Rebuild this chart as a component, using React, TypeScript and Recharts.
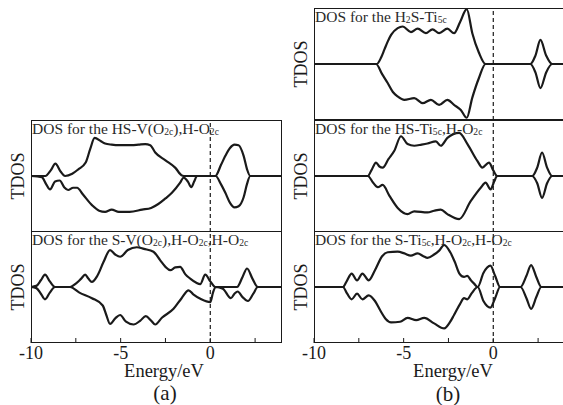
import React from "react";
import { LineChart, Line, XAxis, YAxis, ReferenceLine } from "recharts";

type Pt = [number, number];

// energy axis (eV), minor ticks every 2.5, labels every 5
const energyDomain: [number, number] = [-10, 4];
const energyTicks = [-10, -7.5, -5, -2.5, 0, 2.5];

// (a) HS-V(O2c),H-O2c : spin up / spin down
const hsVUp: Pt[] = [
  [-10, 0], [-9.2, 0], [-8.9, 0.1], [-8.64, 0.22], [-8.35, 0.08], [-8.1, 0], [-7.7, 0.04],
  [-7.36, 0.12], [-6.95, 0.24], [-6.7, 0.48], [-6.45, 0.68], [-6.1, 0.62], [-5.87, 0.58],
  [-5.5, 0.56], [-5.1, 0.55], [-4.7, 0.55], [-4.38, 0.55], [-4.0, 0.56], [-3.63, 0.57],
  [-3.35, 0.55], [-3.07, 0.42], [-2.5, 0.28], [-1.96, 0.15], [-1.58, 0.01], [-1.4, 0],
  [0.28, 0], [0.6, 0.2], [0.84, 0.36], [1.1, 0.5], [1.35, 0.56], [1.58, 0.55], [1.86, 0.36],
  [2.05, 0.12], [2.23, 0], [4, 0],
];
const hsVDown: Pt[] = [
  [-10, 0], [-9.4, -0.02], [-9.15, -0.15], [-8.94, -0.24], [-8.66, -0.1], [-8.4, -0.08],
  [-8.15, -0.2], [-7.93, -0.25], [-7.65, -0.21], [-7.43, -0.21], [-7.1, -0.33], [-6.6, -0.52],
  [-6.2, -0.62], [-5.87, -0.64], [-5.5, -0.6], [-5.1, -0.64], [-4.5, -0.64], [-3.8, -0.6],
  [-3.3, -0.57], [-2.9, -0.5], [-2.5, -0.4], [-2.14, -0.3], [-1.68, -0.12], [-1.49, -0.03],
  [-1.25, -0.1], [-1.06, -0.2], [-0.9, -0.1], [-0.74, 0], [0.3, 0], [0.6, -0.15],
  [0.84, -0.3], [1.1, -0.48], [1.35, -0.56], [1.58, -0.54], [1.86, -0.38], [2.05, -0.14],
  [2.23, 0], [4, 0],
];

// (a) S-V(O2c),H-O2c,H-O2c
const sVUp: Pt[] = [
  [-10, 0], [-9.7, 0.02], [-9.45, 0.12], [-9.22, 0.22], [-8.95, 0.1], [-8.66, 0], [-7.82, 0],
  [-7.5, 0.06], [-7.2, 0.15], [-6.98, 0.22], [-6.8, 0.15], [-6.61, 0.09], [-6.3, 0.2],
  [-5.95, 0.45], [-5.59, 0.66], [-5.3, 0.58], [-5.03, 0.54], [-4.6, 0.66], [-4.1, 0.71],
  [-3.7, 0.68], [-3.17, 0.63], [-2.8, 0.48], [-2.5, 0.36], [-2.23, 0.3], [-1.95, 0.35],
  [-1.68, 0.36], [-1.4, 0.23], [-1.12, 0.15], [-0.8, 0.08], [-0.56, 0.05], [-0.28, 0.22],
  [0, 0.1], [0.28, 0], [1.49, 0], [1.8, 0.18], [2.05, 0.33], [2.35, 0.15], [2.65, 0], [4, 0],
];
const sVDown: Pt[] = [
  [-10, 0], [-9.7, -0.02], [-9.45, -0.12], [-9.22, -0.22], [-8.95, -0.1], [-8.66, 0],
  [-7.82, 0], [-7.3, -0.1], [-6.6, -0.2], [-6.0, -0.33], [-5.8, -0.5], [-5.59, -0.66],
  [-5.3, -0.56], [-5.03, -0.5], [-4.7, -0.62], [-4.28, -0.67], [-3.9, -0.6], [-3.6, -0.52],
  [-3.3, -0.6], [-3.07, -0.67], [-2.7, -0.55], [-2.05, -0.39], [-1.6, -0.2], [-1.21, -0.06],
  [-0.95, -0.13], [-0.5, -0.22], [0, -0.27], [0.15, -0.1], [0.3, 0], [0.7, -0.03],
  [1.15, -0.2], [1.35, -0.12], [1.53, -0.08], [1.8, -0.18], [2.1, -0.25], [2.4, -0.12],
  [2.65, 0], [4, 0],
];

// (b) H2S-Ti5c
const h2sUp: Pt[] = [
  [-10, 0], [-6.5, 0], [-6.25, 0.12], [-6.07, 0.26], [-5.89, 0.4], [-5.7, 0.52],
  [-5.33, 0.64], [-5.06, 0.67], [-4.59, 0.57], [-4.22, 0.63], [-3.76, 0.55], [-3.39, 0.62],
  [-3.02, 0.55], [-2.56, 0.63], [-2.19, 0.55], [-1.85, 0.75], [-1.48, 0.98], [-1.17, 0.55],
  [-0.8, 0.2], [-0.43, 0], [2.07, 0], [2.35, 0.15], [2.63, 0.43], [2.95, 0.15], [3.28, 0],
  [4, 0],
];
const h2sDown: Pt[] = [
  [-10, 0], [-6.54, 0], [-6.2, -0.18], [-5.89, -0.34], [-5.6, -0.5], [-5.33, -0.58],
  [-4.96, -0.64], [-4.41, -0.61], [-3.94, -0.7], [-3.48, -0.64], [-3.02, -0.73],
  [-2.56, -0.64], [-2.19, -0.73], [-1.81, -0.82], [-1.48, -0.96], [-1.17, -0.6],
  [-0.8, -0.25], [-0.43, 0], [2.07, 0], [2.35, -0.15], [2.63, -0.43], [2.95, -0.15],
  [3.28, 0], [4, 0],
];

// (b) HS-Ti5c,H-O2c
const hsTiUp: Pt[] = [
  [-10, 0], [-7.0, 0], [-6.8, 0.1], [-6.54, 0.24], [-6.35, 0.17], [-6.17, 0.15], [-5.85, 0.3],
  [-5.52, 0.45], [-5.15, 0.71], [-4.78, 0.57], [-4.41, 0.54], [-4.0, 0.56], [-3.67, 0.58],
  [-3.2, 0.62], [-2.93, 0.54], [-2.56, 0.68], [-1.9, 0.77], [-1.44, 0.57], [-0.89, 0.27],
  [-0.61, 0.15], [-0.24, 0.24], [0, 0.1], [0.22, 0], [2.17, 0], [2.45, 0.15], [2.72, 0.42],
  [3.0, 0.15], [3.28, 0], [4, 0],
];
const hsTiDown: Pt[] = [
  [-10, 0], [-7.0, 0], [-6.7, -0.12], [-6.44, -0.2], [-6.17, -0.16], [-5.8, -0.35],
  [-5.33, -0.57], [-4.78, -0.68], [-4.41, -0.63], [-3.67, -0.65], [-3.3, -0.62],
  [-2.93, -0.6], [-2.56, -0.68], [-1.9, -0.77], [-1.26, -0.45], [-0.7, -0.21],
  [-0.43, -0.12], [-0.15, -0.24], [0.05, -0.1], [0.22, 0], [2.17, 0], [2.45, -0.13],
  [2.72, -0.39], [3.0, -0.13], [3.28, 0], [4, 0],
];

// (b) S-Ti5c,H-O2c,H-O2c
const sTiUp: Pt[] = [
  [-10, 0], [-8.39, 0], [-8.15, 0.12], [-7.9, 0.24], [-7.6, 0.12], [-7.3, 0.24],
  [-6.95, 0.12], [-6.6, 0.3], [-6.2, 0.55], [-5.89, 0.62], [-5.33, 0.63], [-4.96, 0.6],
  [-4.6, 0.56], [-4.22, 0.6], [-3.9, 0.55], [-3.67, 0.52], [-3.3, 0.58], [-3.02, 0.65],
  [-2.74, 0.75], [-2.4, 0.62], [-2.15, 0.45], [-1.89, 0.24], [-1.63, 0.18], [-1.45, 0.2],
  [-1.25, 0.12], [-1.07, 0.06], [-0.87, 0], [-0.55, 0.25], [-0.16, 0.38], [0.1, 0.2],
  [0.38, 0], [1.52, 0], [1.85, 0.2], [2.11, 0.39], [2.4, 0.18], [2.68, 0], [4, 0],
];
const sTiDown: Pt[] = [
  [-10, 0], [-8.39, 0], [-8.15, -0.12], [-7.9, -0.22], [-7.6, -0.12], [-7.3, -0.22],
  [-6.95, -0.15], [-6.6, -0.25], [-6.3, -0.42], [-6.0, -0.57], [-5.7, -0.63], [-5.2, -0.62],
  [-4.78, -0.55], [-4.3, -0.59], [-3.85, -0.55], [-3.3, -0.65], [-2.74, -0.74],
  [-2.4, -0.62], [-2.19, -0.5], [-1.85, -0.3], [-1.63, -0.2], [-1.45, -0.22], [-1.2, -0.11],
  [-0.87, 0], [-0.55, -0.25], [-0.16, -0.37], [0.1, -0.2], [0.38, 0], [1.52, 0],
  [1.85, -0.2], [2.11, -0.39], [2.4, -0.18], [2.68, 0], [4, 0],
];

const SERIF = '"Liberation Serif", "Times New Roman", serif';
const INK = "#1a1a1a";
const PLOT_W = 251;
const PLOT_H = 112;
const PAD = 22;
const AXIS_H = 34;

type Row = { e: number; up?: number; down?: number };

function mergeSpins(up: Pt[], down: Pt[]): Row[] {
  const rows = new Map<number, Row>();
  up.forEach(([e, v]) => {
    const r = rows.get(e) ?? { e };
    r.up = v;
    rows.set(e, r);
  });
  down.forEach(([e, v]) => {
    const r = rows.get(e) ?? { e };
    r.down = v;
    rows.set(e, r);
  });
  return [...rows.values()].sort((a, b) => a.e - b.e);
}

function EnergyTick(props: any) {
  const { x, y, payload } = props;
  const v = payload.value as number;
  return (
    <g>
      <line x1={x} x2={x} y1={y} y2={y - 5} stroke={INK} strokeWidth={1} />
      {v % 5 === 0 && (
        <text x={x} y={y + 16} textAnchor="middle" fontFamily={SERIF} fontSize={18} fill={INK}>
          {v}
        </text>
      )}
    </g>
  );
}

const Sub = ({ children }: { children: React.ReactNode }) => (
  <span style={{ fontSize: "0.62em", position: "relative", top: "0.15em" }}>{children}</span>
);

interface PanelProps {
  left: number;
  top: number;
  title: React.ReactNode;
  up: Pt[];
  down: Pt[];
  showAxis?: boolean;
}

function DosPanel({ left, top, title, up, down, showAxis = false }: PanelProps) {
  const data = mergeSpins(up, down);
  const height = 4 + PLOT_H + (showAxis ? AXIS_H : 4);
  return (
    <>
      <div style={{ position: "absolute", left: left - PAD, top: top - 4 }}>
        <LineChart
          width={PLOT_W + 2 * PAD}
          height={height}
          data={data}
          margin={{ top: 4, right: PAD, left: PAD, bottom: showAxis ? 0 : 4 }}
        >
          <XAxis
            dataKey="e"
            type="number"
            domain={energyDomain}
            ticks={energyTicks}
            interval={0}
            allowDataOverflow
            hide={!showAxis}
            height={AXIS_H}
            axisLine={false}
            tickLine={false}
            tickSize={0}
            tickMargin={0}
            tick={<EnergyTick />}
          />
          <YAxis hide type="number" domain={[-1, 1]} allowDataOverflow />
          <ReferenceLine x={0} stroke={INK} strokeWidth={1.2} strokeDasharray="4 3" />
          <Line
            dataKey="up"
            type="monotone"
            stroke={INK}
            strokeWidth={2.2}
            dot={false}
            connectNulls
            isAnimationActive={false}
          />
          <Line
            dataKey="down"
            type="monotone"
            stroke={INK}
            strokeWidth={2.2}
            dot={false}
            connectNulls
            isAnimationActive={false}
          />
        </LineChart>
      </div>
      <div
        style={{
          position: "absolute",
          left,
          top,
          width: PLOT_W,
          height: PLOT_H,
          border: `1px solid ${INK}`,
          boxSizing: "border-box",
          pointerEvents: "none",
        }}
      />
      <div
        style={{
          position: "absolute",
          left: left + 1,
          top: top + 1,
          fontFamily: SERIF,
          fontSize: 15.5,
          lineHeight: "15px",
          whiteSpace: "nowrap",
          color: "#2a2a2a",
        }}
      >
        {title}
      </div>
      <div
        style={{
          position: "absolute",
          left: left - 13,
          top: top + PLOT_H / 2,
          transform: "translate(-50%, -50%) rotate(-90deg)",
          fontFamily: SERIF,
          fontSize: 18,
          color: INK,
          whiteSpace: "nowrap",
        }}
      >
        TDOS
      </div>
    </>
  );
}

function Caption({ x, y, size, children }: { x: number; y: number; size: number; children: React.ReactNode }) {
  return (
    <div
      style={{
        position: "absolute",
        left: x,
        top: y,
        transform: "translate(-50%, -50%)",
        fontFamily: SERIF,
        fontSize: size,
        color: INK,
        whiteSpace: "nowrap",
      }}
    >
      {children}
    </div>
  );
}

export default function App() {
  const colA = 31;
  const colB = 314;
  const rows = [8, 120, 231];
  return (
    <div style={{ position: "absolute", left: 0, top: 0, width: 563, height: 405, background: "#fff", overflow: "hidden" }}>
      <DosPanel
        left={colA}
        top={rows[1]}
        title={<>DOS for the HS-V(O<Sub>2c</Sub>),H-O<Sub>2c</Sub></>}
        up={hsVUp}
        down={hsVDown}
      />
      <DosPanel
        left={colA}
        top={rows[2]}
        title={<>DOS for the S-V(O<Sub>2c</Sub>),H-O<Sub>2c</Sub>,H-O<Sub>2c</Sub></>}
        up={sVUp}
        down={sVDown}
        showAxis
      />
      <DosPanel
        left={colB}
        top={rows[0]}
        title={<>DOS for the H<Sub>2</Sub>S-Ti<Sub>5c</Sub></>}
        up={h2sUp}
        down={h2sDown}
      />
      <DosPanel
        left={colB}
        top={rows[1]}
        title={<>DOS for the HS-Ti<Sub>5c</Sub>,H-O<Sub>2c</Sub></>}
        up={hsTiUp}
        down={hsTiDown}
      />
      <DosPanel
        left={colB}
        top={rows[2]}
        title={<>DOS for the S-Ti<Sub>5c</Sub>,H-O<Sub>2c</Sub>,H-O<Sub>2c</Sub></>}
        up={sTiUp}
        down={sTiDown}
        showAxis
      />
      <Caption x={164} y={371} size={18.5}>Energy/eV</Caption>
      <Caption x={165} y={393} size={21}>(a)</Caption>
      <Caption x={453} y={371} size={18.5}>Energy/eV</Caption>
      <Caption x={448} y={394} size={21}>(b)</Caption>
    </div>
  );
}
